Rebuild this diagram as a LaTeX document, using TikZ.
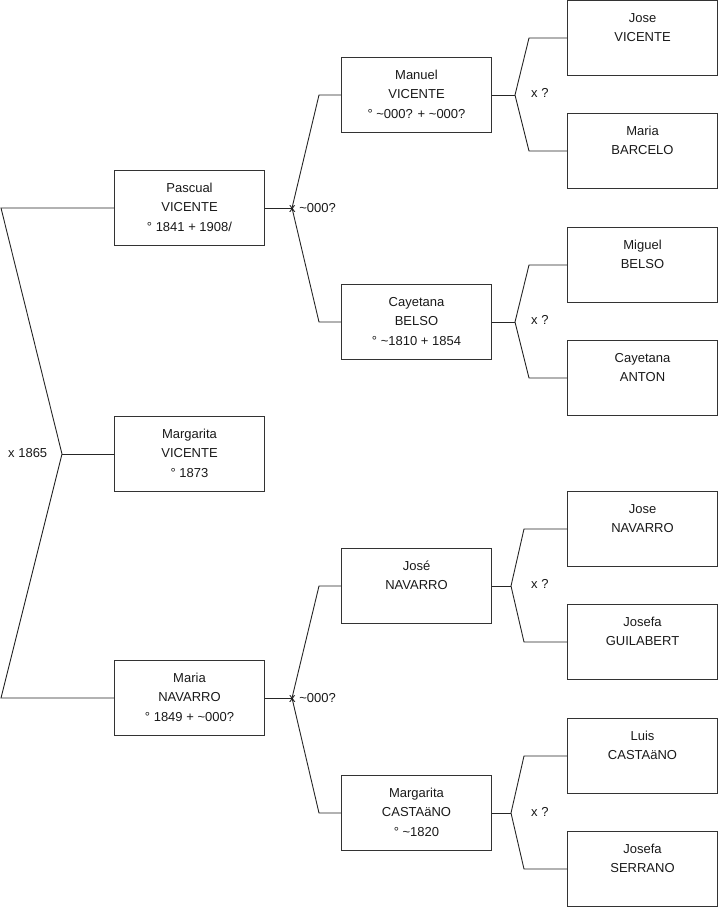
\documentclass[tikz,border=0pt]{standalone}
\usepackage{fontspec}
\setmainfont{Liberation Sans}
\usepackage{tikz}

\begin{document}
\begin{tikzpicture}[x=1pt, y=-1pt, font={\fontsize{13}{19.5}\selectfont},
  person/.style={rectangle, draw=black!80, line width=0.9pt, minimum width=150pt, minimum height=75pt, inner sep=0pt, align=center, text=black!90},
  link/.style={draw=black!85, line width=0.9pt},
  marr/.style={anchor=west, inner sep=0pt, text=black!90}
]
  \useasboundingbox (0,0) rectangle (719,908);
  % ===== generation 1 =====
  \node[person] (Pascual)   at (189.5,208) {\strut Pascual\\VICENTE\\° 1841 + 1908/\strut};
  \node[person] (Margarita) at (189.5,454) {\strut Margarita\\VICENTE\\° 1873\strut};
  \node[person] (Maria)     at (189.5,698) {\strut Maria\\NAVARRO\\° 1849 + \textasciitilde000?\strut};
  % ===== generation 2 =====
  \node[person] (Manuel)    at (416.5,95)  {\strut Manuel\\VICENTE\\° \textasciitilde000? + \textasciitilde000?\strut};
  \node[person] (Cayetana)  at (416.5,322) {\strut Cayetana\\BELSO\\° \textasciitilde1810 + 1854\strut};
  \node[person] (Jose)      at (416.5,586) {\strut José\\NAVARRO\\\strut};
  \node[person] (MargaritaC) at (416.5,813) {\strut Margarita\\CASTAäNO\\° \textasciitilde1820\strut};
  % ===== generation 3 =====
  \node[person] (JoseV)     at (642.5,38)  {\strut Jose\\VICENTE\\\strut};
  \node[person] (MariaB)    at (642.5,151) {\strut Maria\\BARCELO\\\strut};
  \node[person] (MiguelB)   at (642.5,265) {\strut Miguel\\BELSO\\\strut};
  \node[person] (CayetanaA) at (642.5,378) {\strut Cayetana\\ANTON\\\strut};
  \node[person] (JoseN)     at (642.5,529) {\strut Jose\\NAVARRO\\\strut};
  \node[person] (JosefaG)   at (642.5,642) {\strut Josefa\\GUILABERT\\\strut};
  \node[person] (LuisC)     at (642.5,756) {\strut Luis\\CASTAäNO\\\strut};
  \node[person] (JosefaS)   at (642.5,869) {\strut Josefa\\SERRANO\\\strut};
  % ===== marriage forks =====
  \coordinate (m0) at (62,454);
  \coordinate (m1) at (292,208);
  \coordinate (m2) at (292,698);
  \coordinate (m3) at (515,95);
  \coordinate (m4) at (515,322);
  \coordinate (m5) at (511,586);
  \coordinate (m6) at (511,813);
  % ===== connectors =====
  \draw[link] (Pascual.west) -- (1,0 |- Pascual.west) -- (m0) -- (1,0 |- Maria.west) -- (Maria.west);
  \draw[link] (m0) -- (Margarita.west);
  \draw[link] (Pascual.east) -- (m1);
  \draw[link] (Manuel.west) -- (319,0 |- Manuel.west) -- (m1) -- (319,0 |- Cayetana.west) -- (Cayetana.west);
  \draw[link] (Maria.east) -- (m2);
  \draw[link] (Jose.west) -- (319,0 |- Jose.west) -- (m2) -- (319,0 |- MargaritaC.west) -- (MargaritaC.west);
  \draw[link] (Manuel.east) -- (m3);
  \draw[link] (JoseV.west) -- (529,0 |- JoseV.west) -- (m3) -- (529,0 |- MariaB.west) -- (MariaB.west);
  \draw[link] (Cayetana.east) -- (m4);
  \draw[link] (MiguelB.west) -- (529,0 |- MiguelB.west) -- (m4) -- (529,0 |- CayetanaA.west) -- (CayetanaA.west);
  \draw[link] (Jose.east) -- (m5);
  \draw[link] (JoseN.west) -- (524,0 |- JoseN.west) -- (m5) -- (524,0 |- JosefaG.west) -- (JosefaG.west);
  \draw[link] (MargaritaC.east) -- (m6);
  \draw[link] (LuisC.west) -- (524,0 |- LuisC.west) -- (m6) -- (524,0 |- JosefaS.west) -- (JosefaS.west);
  % ===== marriage labels =====
  \node[marr] (w0) at (8,453)   {x 1865};
  \node[marr] (w1) at (289,208) {x \textasciitilde000?};
  \node[marr] (w2) at (289,698) {x \textasciitilde000?};
  \node[marr] (w3) at (531,93)  {x ?};
  \node[marr] (w4) at (531,320) {x ?};
  \node[marr] (w5) at (531,584) {x ?};
  \node[marr] (w6) at (531,812) {x ?};
\end{tikzpicture}
\end{document}
